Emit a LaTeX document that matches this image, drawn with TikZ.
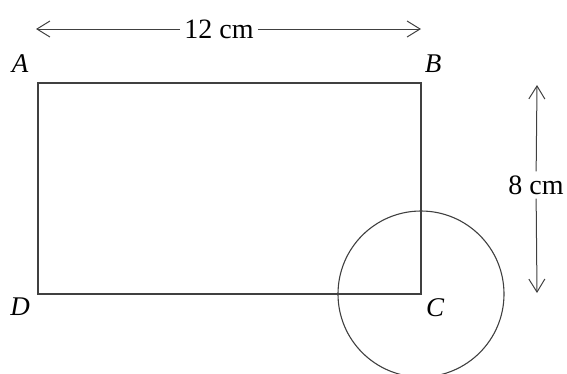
\documentclass[tikz,border=0pt]{standalone}
\usepackage{fontspec}
\setmainfont{Liberation Serif}
\usetikzlibrary{arrows.meta, positioning, calc}

\begin{document}
\begin{tikzpicture}[
    x=1pt, y=-1pt,
    >={Straight Barb[length=13pt,width=16pt]},
    side/.style={draw=black!75, line width=1.1pt},
    dimension/.style={draw=black!75, line width=1pt, ->},
    corner label/.style={font=\fontsize{27}{29}\selectfont\itshape, inner sep=0pt},
    dim label/.style={font=\fontsize{28}{30}\selectfont, inner sep=4pt}
]
    \useasboundingbox (0,0) rectangle (567,373);
    \clip (0,0) rectangle (567,373);

    % Rectangle corners
    \coordinate (A) at (38,83);
    \coordinate (B) at (421,83);
    \coordinate (C) at (421,294);
    \coordinate (D) at (38,294);

    % Corner labels
    \node[corner label] (labelA) at (20,64) {A};
    \node[corner label] (labelB) at (433,64) {B};
    \node[corner label] (labelC) at (435,308) {C};
    \node[corner label] (labelD) at (20,307) {D};

    % Rectangle and circle
    \draw[side] (A) -- (B) -- (C) -- (D) -- cycle;
    \draw[side] (C) circle (83);

    % Width 12 cm
    \coordinate (topL) at (36,29);
    \coordinate (topR) at (421,29);
    \node[dim label] (width) at (219,29) {12 cm};
    \draw[dimension] (width) -- (topL);
    \draw[dimension] (width) -- (topR);

    % Height 8 cm
    \coordinate (rightT) at (537,85);
    \coordinate (rightB) at (537,293);
    \node[dim label] (height) at (536,185) {8 cm};
    \draw[dimension] (height) -- (rightT);
    \draw[dimension] (height) -- (rightB);
\end{tikzpicture}
\end{document}
